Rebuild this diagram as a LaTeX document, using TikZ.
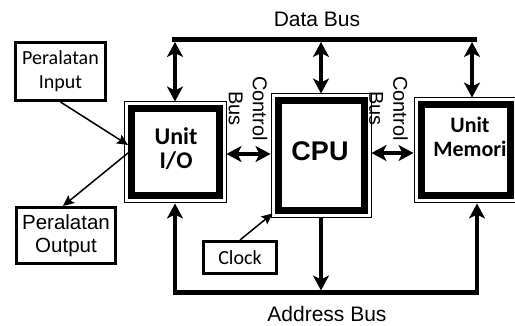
\documentclass[tikz,border=0pt]{standalone}
\usepackage{fontspec}
\setmainfont{Liberation Sans}
\newfontfamily\carl{Carlito}
\usetikzlibrary{arrows.meta}
\begin{document}
\begin{tikzpicture}[x=1pt,y=-1pt,
  smallbox/.style={draw, line width=3pt, inner sep=0pt, align=center},
  unitbox/.style={draw, line width=1pt, inner sep=0pt},
  thickrim/.style={line width=7pt},
  bus/.style={line width=5pt},
  darr/.style={line width=4pt, >={Stealth[length=15pt,width=16pt,inset=4pt]}, <->},
  sarr/.style={line width=4pt, >={Stealth[length=15pt,width=16pt,inset=4pt]}, ->},
  tarr/.style={line width=1.5pt, >={Stealth[length=11pt,width=10pt,inset=2pt]}, ->},
  lbl/.style={font=\fontsize{21}{24}\selectfont, align=center, inner sep=0pt},
  clbl/.style={font=\carl\fontsize{20}{24}\selectfont, align=center},
  utext/.style={font=\carl\bfseries\fontsize{24}{24}\selectfont, align=center, inner sep=0pt}
]
\path[use as bounding box, clip] (0,0) rectangle (515,326);

% small boxes
\node[smallbox, clbl, minimum width=90pt, minimum height=58pt] (in) at (60.5,71.5) {Peralatan\\Input};
\node[smallbox, lbl, font=\fontsize{20.5}{23}\selectfont, minimum width=99pt, minimum height=56pt] (out) at (66,235.5) {Peralatan\\Output};
\node[smallbox, clbl, inner sep=0pt, minimum width=73pt, minimum height=32pt] (clk) at (240,257.5) {Clock};

% unit boxes
\node[unitbox, minimum width=102pt, minimum height=101pt] (io) at (175,152.5) {};
\node[unitbox, minimum width=100pt, minimum height=124pt] (cpu) at (321,156) {};
\node[unitbox, minimum width=103pt, minimum height=105pt] (mem) at (465.5,150.5) {};
\foreach \b in {io,cpu,mem}{
  \draw[thickrim] ([shift={(7.5,7.5)}]\b.north west) rectangle ([shift={(-7.5,-7.5)}]\b.south east);
}
\node[utext] (iot) at (176,149) {Unit\\I/O};
\node[font=\bfseries\fontsize{27}{27}\selectfont, inner sep=0pt] (cput) at (320,151) {CPU};
\node[utext, font=\carl\bfseries\fontsize{22}{24.5}\selectfont] (memt) at (470,137) {Unit\\Memori};

% control bus labels
\node[lbl, font=\fontsize{20}{24}\selectfont, rotate=-90] (cb1) at (248,108.5) {Control\\Bus};
\node[lbl, font=\fontsize{20}{24}\selectfont, rotate=-90] (cb2) at (388.5,108.5) {Control\\Bus};

% data bus
\coordinate (dbl) at (172,39.5);
\coordinate (dbr) at (477,39.5);
\coordinate (dbt) at (0,42);
\coordinate (mx) at (472,0);
\draw[bus] (dbl) -- (dbr);
\node[lbl] (dbus) at (317,19.5) {Data Bus};
\draw[darr] (io.north |- dbt) -- (io.north);
\draw[darr] (cpu.north |- dbt) -- (cpu.north);
\draw[darr] (mx |- dbt) -- (mx |- mem.north);

% address bus
\coordinate (abl) at (173,293);
\coordinate (abr) at (479,293);
\coordinate (abb) at (0,295.5);
\coordinate (abtop) at (0,290.5);
\coordinate (ax) at (477,0);
\draw[bus] (abl) -- (abr);
\node[lbl] (abus) at (327,313.5) {Address Bus};
\draw[sarr] (io.south |- abb) -- (io.south);
\draw[sarr] (cpu.south) -- (cpu.south |- abtop);
\draw[sarr] (ax |- abb) -- (ax |- mem.south);

% horizontal control bus arrows
\coordinate (h1) at (0,154);
\coordinate (h2) at (0,153);
\draw[darr] (io.east |- h1) -- (cpu.west |- h1);
\draw[darr] (cpu.east |- h2) -- (mem.west |- h2);

% thin arrows
\draw[tarr] (in.south) -- ([shift={(4.5,-7.5)}]io.west);
\draw[tarr] ([shift={(4.5,0.5)}]io.west) -- ([xshift=-3pt]out.north);
\draw[tarr] (clk.north) -- ([shift={(2,-5)}]cpu.south west);
\end{tikzpicture}
\end{document}
